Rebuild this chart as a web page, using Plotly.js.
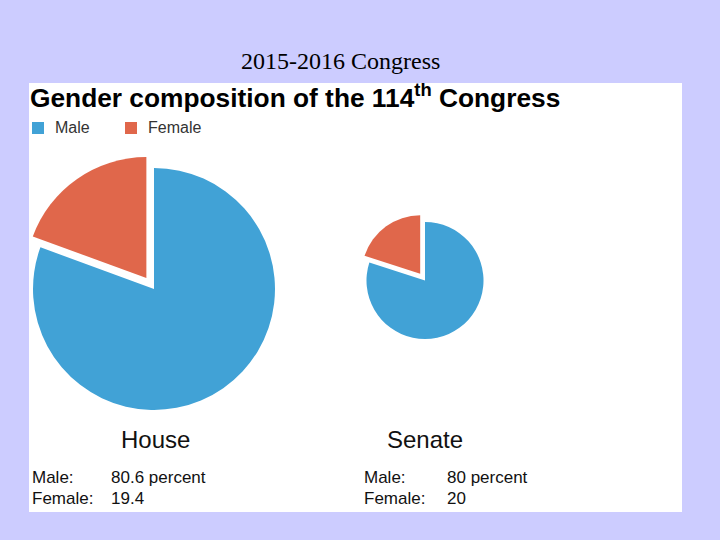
<!DOCTYPE html>
<html>
<head>
<meta charset="utf-8">
<script src="https://cdn.plot.ly/plotly-3.0.1.min.js"></script>
<style>
  html, body { margin: 0; padding: 0; background: #ccccff; }
  #chart { width: 720px; height: 540px; }
</style>
</head>
<body>
<div id="chart"></div>
<script>
const PAGE_TITLE = "2015-2016 Congress";
const CHART_TITLE = "Gender composition of the 114<sup>th</sup> Congress";
const GENDER_LABELS = ["Male", "Female"];
const GENDER_COLORS = ["#41a2d6", "#e0674b"];
const CHAMBERS = ["House", "Senate"];
const HOUSE_SHARES = [80.6, 19.4];
const SENATE_SHARES = [80, 20];
const HOUSE_TEXT = ["80.6 percent", "19.4"];
const SENATE_TEXT = ["80 percent", "20"];

const W = 720;
const H = 540;
const SANS = "Liberation Sans, Arial, sans-serif";

// pixel helpers, margins are zero so paper == page
const px = (x) => x / W;
const py = (y) => 1 - y / H;

function pieTrace(name, values, box, pull) {
  return {
    type: "pie",
    name,
    labels: GENDER_LABELS,
    values,
    sort: false,
    direction: "clockwise",
    rotation: 0,
    pull: [0, pull],
    marker: { colors: GENDER_COLORS, line: { width: 0 } },
    textinfo: "none",
    hoverinfo: "skip",
    showlegend: false,
    domain: { x: [px(box.x0), px(box.x1)], y: [py(box.y1), py(box.y0)] },
  };
}

function textNote(text, x, y, size, xanchor, color = "#111111") {
  return {
    text,
    x: px(x),
    y: py(y),
    xref: "paper",
    yref: "paper",
    xanchor,
    yanchor: "middle",
    showarrow: false,
    font: { family: SANS, size, color },
  };
}

function chamberNotes(name, text, cx, left, valueLeft) {
  return [
    textNote(name, cx, 439, 24, "center"),
    textNote(GENDER_LABELS[0] + ":", left, 477.5, 17, "left"),
    textNote(text[0], valueLeft, 477.5, 17, "left"),
    textNote(GENDER_LABELS[1] + ":", left, 498.5, 17, "left"),
    textNote(text[1], valueLeft, 498.5, 17, "left"),
  ];
}

// legend drawn by hand so the spacing matches the original graphic
const LEGEND_X = [32, 125];

function legendShapes() {
  return GENDER_LABELS.map((label, i) => ({
    type: "rect",
    xref: "paper",
    yref: "paper",
    x0: px(LEGEND_X[i]),
    x1: px(LEGEND_X[i] + 12),
    y0: py(134),
    y1: py(122),
    fillcolor: GENDER_COLORS[i],
    line: { width: 0 },
  }));
}

function legendNotes() {
  return GENDER_LABELS.map((label, i) => textNote(label, LEGEND_X[i] + 21, 127.5, 16, "left", "#333333"));
}

function main() {
  const traces = [
    pieTrace(CHAMBERS[0], HOUSE_SHARES, { x0: 19.7, x1: 288.3, y0: 154.7, y1: 423.3 }, 0.11),
    pieTrace(CHAMBERS[1], SENATE_SHARES, { x0: 358.3, x1: 491.7, y0: 213.8, y1: 347.2 }, 0.14),
  ];

  const annotations = [
    {
      text: PAGE_TITLE,
      x: px(340),
      y: py(61),
      xref: "paper",
      yref: "paper",
      xanchor: "center",
      yanchor: "middle",
      showarrow: false,
      font: { family: "Liberation Serif, Times New Roman, serif", size: 24, color: "#000000" },
    },
    {
      text: "<b>" + CHART_TITLE + "</b>",
      x: px(28),
      y: py(96),
      xref: "paper",
      yref: "paper",
      xanchor: "left",
      yanchor: "middle",
      showarrow: false,
      font: { family: SANS, size: 26.3, color: "#000000" },
    },
    ...legendNotes(),
    ...chamberNotes(CHAMBERS[0], HOUSE_TEXT, 155, 30, 109),
    ...chamberNotes(CHAMBERS[1], SENATE_TEXT, 425, 362, 445),
  ];

  const layout = {
    width: W,
    height: H,
    margin: { l: 0, r: 0, t: 0, b: 0 },
    paper_bgcolor: "#ccccff",
    plot_bgcolor: "#ccccff",
    showlegend: false,
    shapes: [
      {
        type: "rect",
        xref: "paper",
        yref: "paper",
        x0: px(29),
        x1: px(682),
        y0: py(512),
        y1: py(83),
        fillcolor: "#ffffff",
        line: { width: 0 },
        layer: "below",
      },
      ...legendShapes(),
    ],
    annotations,
  };

  Plotly.newPlot("chart", traces, layout, { displayModeBar: false, staticPlot: true });
}

main();
</script>
</body>
</html>
